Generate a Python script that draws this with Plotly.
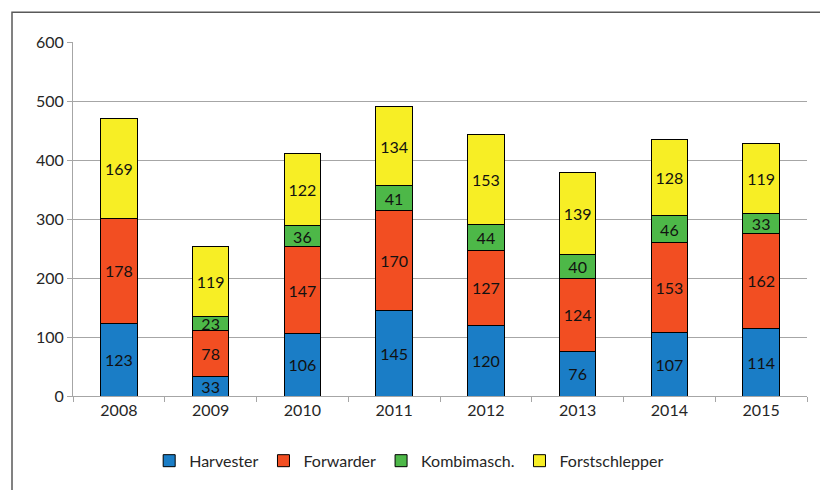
import plotly.graph_objects as go

years = ["2008", "2009", "2010", "2011", "2012", "2013", "2014", "2015"]
harvester = [123, 33, 106, 145, 120, 76, 107, 114]
forwarder = [178, 78, 147, 170, 127, 124, 153, 162]
kombi = [None, 23, 36, 41, 44, 40, 46, 33]
forstschlepper = [169, 119, 122, 134, 153, 139, 128, 119]

series = [
    ("Harvester", harvester, "#1A7DC6"),
    ("Forwarder", forwarder, "#F24E22"),
    ("Kombimasch.", kombi, "#4DB848"),
    ("Forstschlepper", forstschlepper, "#F7EE25"),
]

fig = go.Figure()
for name, vals, col in series:
    fig.add_trace(go.Bar(
        x=years, y=vals, name=name,
        marker=dict(color=col, line=dict(color="#000000", width=1)),
        text=[("" if v is None else str(v)) for v in vals],
        textposition="inside", insidetextanchor="middle", textangle=0,
        textfont=dict(color="#111111", size=16, family="Lato"),
        hoverinfo="skip",
    ))

fig.update_layout(
    barmode="stack", bargap=0.6,
    width=820, height=482,
    margin=dict(l=65, r=21, t=34, b=92),
    paper_bgcolor="white", plot_bgcolor="white",
    font=dict(family="Lato", size=16, color="#262626"),
    uniformtext=dict(minsize=16, mode="show"),
    showlegend=True,
    legend=dict(orientation="h", x=0.458, xanchor="center", y=-0.183, yanchor="middle",
                font=dict(size=16, color="#262626"), traceorder="normal",
                itemwidth=30),
    xaxis=dict(type="category", showline=True, linecolor="#A6A6A6", linewidth=1,
               ticks="outside", tickson="boundaries", ticklen=5, tickcolor="#A6A6A6",
               showgrid=False, tickfont=dict(size=16)),
    yaxis=dict(range=[0, 600], dtick=100, showline=True, linecolor="#A6A6A6", linewidth=1,
               ticks="outside", ticklen=5, tickcolor="#A6A6A6",
               showgrid=True, gridcolor="#A6A6A6", gridwidth=1, zeroline=False,
               tickfont=dict(size=16)),
    shapes=[dict(type="rect", xref="paper", yref="paper",
                 x0=-0.0831, x1=1.0272, y0=-0.35, y1=1.0843,
                 line=dict(color="#595959", width=1.5), fillcolor="rgba(0,0,0,0)",
                 layer="below")],
)

fig.write_html("out.html")
